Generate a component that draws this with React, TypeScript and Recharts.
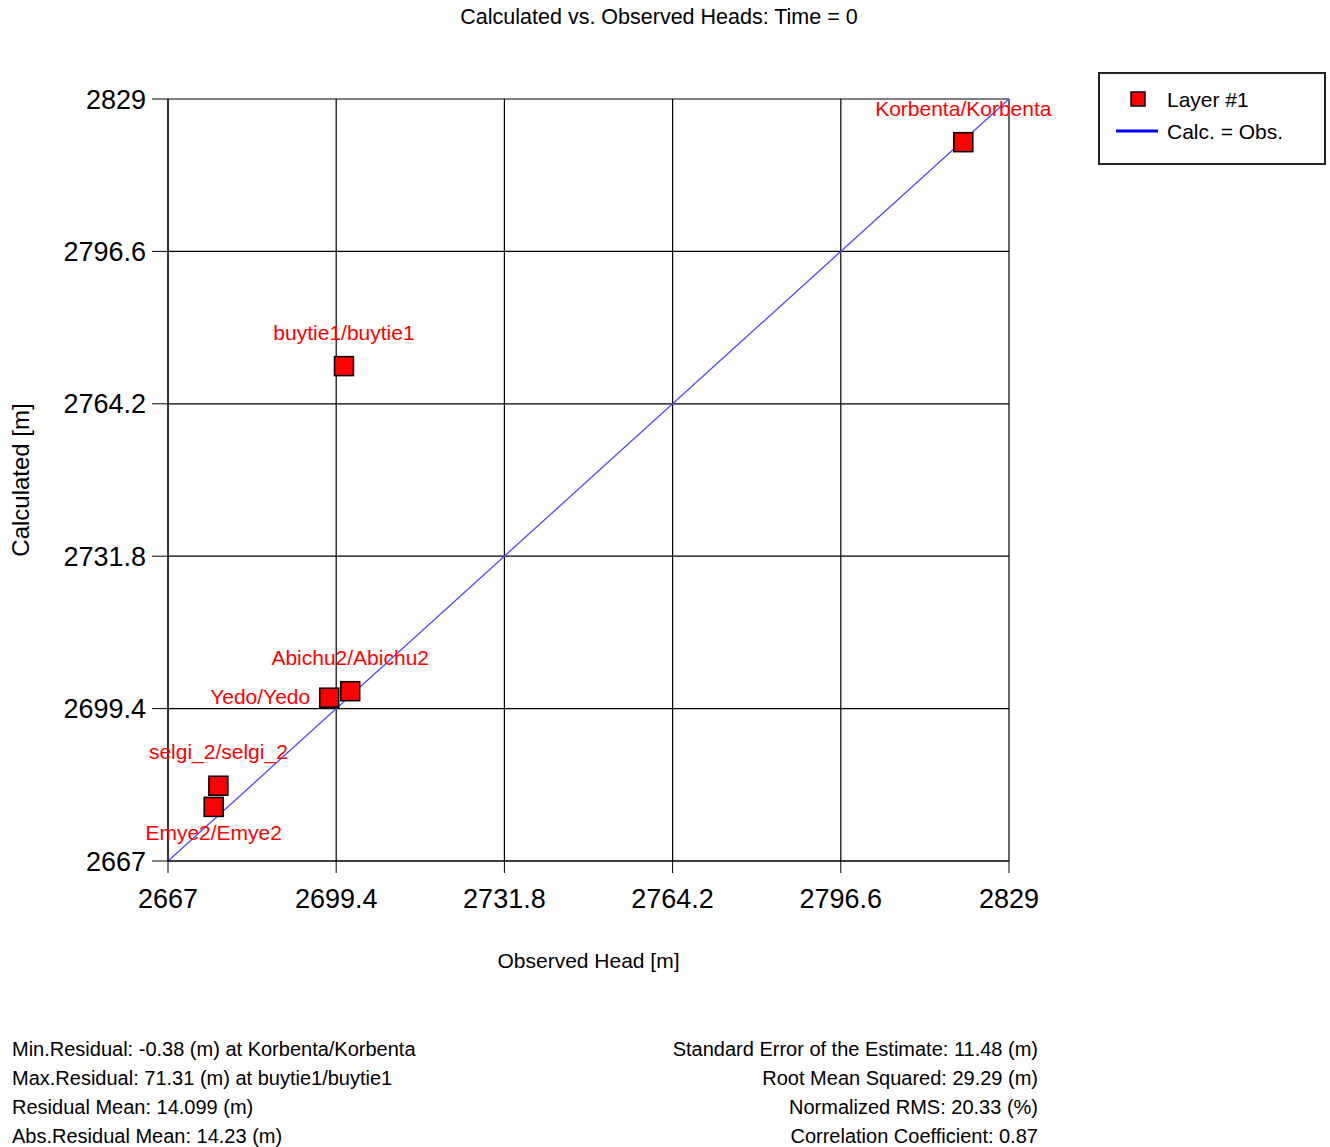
import React from 'react';
import { ScatterChart, Scatter, XAxis, YAxis, CartesianGrid, ReferenceLine } from 'recharts';

const wells = ['Korbenta/Korbenta', 'buytie1/buytie1', 'Abichu2/Abichu2', 'Yedo/Yedo', 'selgi_2/selgi_2', 'Emye2/Emye2'];
const observed = [2820.2, 2700.9, 2702.1, 2698.06, 2676.7, 2675.8];
const calculated = [2819.82, 2772.21, 2703.1, 2701.72, 2683.0, 2678.5];
const axisTicks = [2667, 2699.4, 2731.8, 2764.2, 2796.6, 2829];

const statsLeft = [
  'Min.Residual: -0.38 (m) at Korbenta/Korbenta',
  'Max.Residual: 71.31 (m) at buytie1/buytie1',
  'Residual Mean: 14.099 (m)',
  'Abs.Residual Mean: 14.23 (m)',
];
const statsRight = [
  'Standard Error of the Estimate: 11.48 (m)',
  'Root Mean Squared: 29.29 (m)',
  'Normalized RMS: 20.33 (%)',
  'Correlation Coefficient: 0.87',
];

// labels go above the marker unless they would collide
const labelSide: Record<string, 'left' | 'below'> = {
  'Yedo/Yedo': 'left',
  'Emye2/Emye2': 'below',
};

const points = wells.map((name, i) => ({ name, obs: observed[i], calc: calculated[i] }));

const FONT = '"Liberation Sans", Arial, sans-serif';

function WellMarker(props: any) {
  const { cx, cy, payload } = props;
  const side = labelSide[payload.name];
  let tx = cx;
  let ty = cy - 34;
  let anchor: 'middle' | 'end' = 'middle';
  if (side === 'left') {
    tx = cx - 19;
    ty = cy - 1;
    anchor = 'end';
  } else if (side === 'below') {
    ty = cy + 26;
  }
  return (
    <g>
      <rect x={cx - 9.5} y={cy - 9.5} width={19} height={19} fill="#ff0000" stroke="#000" strokeWidth={1.5} />
      <text x={tx} y={ty} textAnchor={anchor} dominantBaseline="central" fill="#ff0000" fontSize={21} fontFamily={FONT}>
        {payload.name}
      </text>
    </g>
  );
}

export default function App() {
  return (
    <div style={{ position: 'absolute', left: 0, top: 0, width: 1330, height: 1147, background: '#fff', fontFamily: FONT }}>
      <div style={{ position: 'absolute', left: 0, width: 1318, top: 5, textAlign: 'center', fontSize: 21.5, color: '#000' }}>
        Calculated vs. Observed Heads: Time = 0
      </div>

      <ScatterChart width={1330} height={1147} margin={{ top: 99, right: 321, bottom: 176, left: 8 }} style={{ overflow: 'visible' }}>
        <CartesianGrid stroke="#000" strokeWidth={1.2} horizontalValues={axisTicks} verticalValues={axisTicks} />
        <XAxis
          type="number"
          dataKey="obs"
          domain={[2667, 2829]}
          ticks={axisTicks}
          height={110}
          stroke="#000"
          tickSize={12}
          tickMargin={16}
          tick={{ fill: '#000', fontSize: 27, fontFamily: FONT }}
          label={{ value: 'Observed Head [m]', position: 'insideBottom', offset: 3, fill: '#000', fontSize: 21, fontFamily: FONT }}
        />
        <YAxis
          type="number"
          dataKey="calc"
          domain={[2667, 2829]}
          ticks={axisTicks}
          width={160}
          stroke="#000"
          tickSize={16}
          tickMargin={6}
          tick={{ fill: '#000', fontSize: 27, fontFamily: FONT }}
          label={{
            value: 'Calculated [m]',
            angle: -90,
            position: 'insideLeft',
            offset: 12,
            fill: '#000',
            fontSize: 24,
            fontFamily: FONT,
            style: { textAnchor: 'middle' },
          }}
        />
        <ReferenceLine
          segment={[{ x: 2667, y: 2667 }, { x: 2829, y: 2829 }]}
          stroke="#4a4aff"
          strokeWidth={1.3}
          ifOverflow="visible"
        />
        <Scatter data={points} shape={WellMarker} isAnimationActive={false} />
      </ScatterChart>

      <svg style={{ position: 'absolute', left: 1098, top: 72 }} width={229} height={94}>
        <rect x={1} y={1} width={226} height={91} fill="#fff" stroke="#222" strokeWidth={2} />
        <rect x={33} y={20} width={14} height={14} fill="#ff0000" stroke="#000" strokeWidth={1.5} />
        <text x={69} y={27} dominantBaseline="central" fontSize={21} fontFamily={FONT} fill="#000">Layer #1</text>
        <line x1={18} x2={60} y1={59} y2={59} stroke="#0000ff" strokeWidth={3} />
        <text x={69} y={59} dominantBaseline="central" fontSize={21} fontFamily={FONT} fill="#000">Calc. = Obs.</text>
      </svg>

      <div style={{ position: 'absolute', left: 12, top: 1035, fontSize: 20, lineHeight: '29px', color: '#000', whiteSpace: 'nowrap' }}>
        {statsLeft.map((s) => (
          <div key={s}>{s}</div>
        ))}
      </div>
      <div style={{ position: 'absolute', right: 1330 - 1038, top: 1035, fontSize: 20, lineHeight: '29px', color: '#000', textAlign: 'right', whiteSpace: 'nowrap' }}>
        {statsRight.map((s) => (
          <div key={s}>{s}</div>
        ))}
      </div>
    </div>
  );
}
